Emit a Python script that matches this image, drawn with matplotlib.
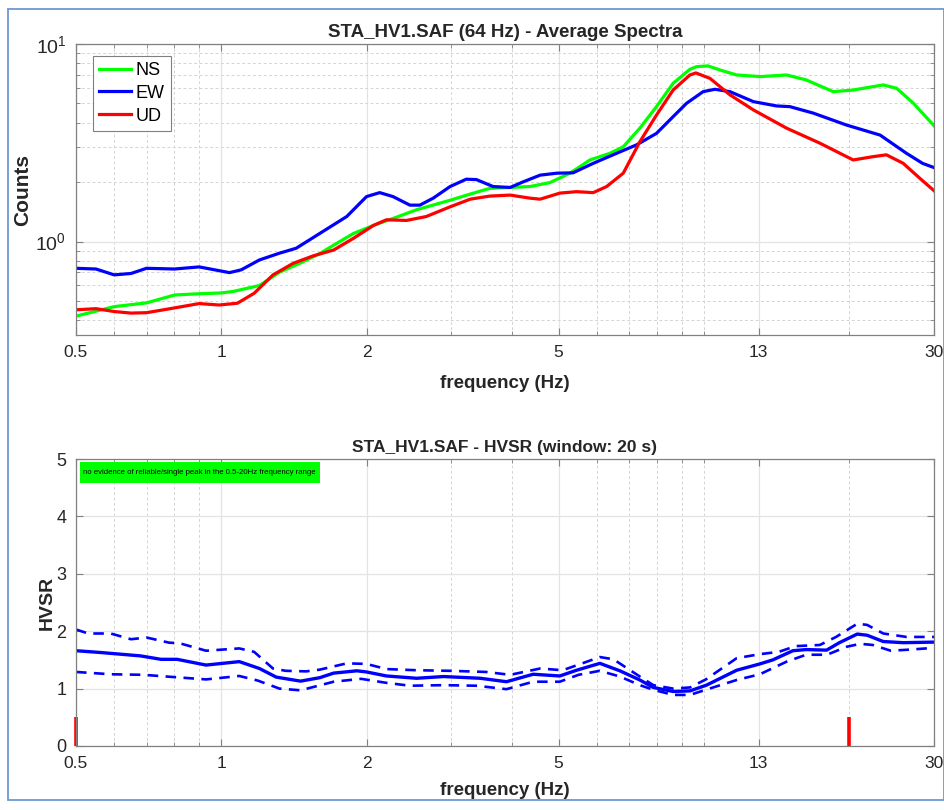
import numpy as np
import matplotlib
matplotlib.use('Agg')
import matplotlib.pyplot as plt
from matplotlib.patches import Rectangle
from matplotlib.ticker import FixedLocator, NullFormatter, LogLocator

plt.rcParams['font.family'] = ['Liberation Sans', 'DejaVu Sans']

# average spectra, read per component (frequency in Hz, counts)
ns_freq = [0.5, 0.6, 0.7, 0.8, 0.9, 1.0, 1.06, 1.2, 1.32, 1.46, 1.6, 1.71, 1.88, 2.07, 2.27,
           2.54, 2.98, 3.28, 3.6, 3.97, 4.36, 4.8, 5.28, 5.81, 6.39, 6.81, 7.37, 7.98, 8.64,
           9.36, 9.66, 10.2, 10.8, 11.7, 13.1, 14.85, 16.3, 18.55, 20.4, 23.55, 25.1, 27.2, 30]
ns_amp = [0.42, 0.469, 0.49, 0.537, 0.545, 0.55, 0.56, 0.6, 0.7, 0.78, 0.87, 0.96, 1.1, 1.21, 1.31,
          1.45, 1.62, 1.74, 1.86, 1.88, 1.9, 1.99, 2.22, 2.59, 2.8, 3.02, 3.75, 4.82, 6.33,
          7.45, 7.68, 7.75, 7.39, 6.97, 6.84, 6.97, 6.58, 5.74, 5.85, 6.21, 5.97, 5.01, 3.86]

ew_freq = [0.5, 0.55, 0.6, 0.65, 0.7, 0.8, 0.9, 1.04, 1.1, 1.2, 1.32, 1.43, 1.6, 1.82, 2.0,
           2.13, 2.27, 2.46, 2.58, 2.75, 2.98, 3.22, 3.38, 3.66, 3.97, 4.23, 4.58, 4.96, 5.36,
           5.9, 6.6, 7.26, 7.98, 8.64, 9.21, 9.97, 10.55, 11.33, 12.67, 14.15, 15.08, 16.86,
           19.76, 23.2, 26.3, 28.4, 30]
ew_amp = [0.733, 0.727, 0.679, 0.69, 0.733, 0.727, 0.745, 0.697, 0.72, 0.808, 0.874, 0.926, 1.1, 1.34, 1.69,
          1.77, 1.69, 1.53, 1.53, 1.66, 1.9, 2.07, 2.06, 1.9, 1.88, 2.01, 2.17, 2.22, 2.23,
          2.49, 2.8, 3.09, 3.53, 4.29, 5.01, 5.74, 5.9, 5.74, 5.11, 4.86, 4.82, 4.47,
          3.89, 3.46, 2.8, 2.49, 2.37]

ud_freq = [0.5, 0.55, 0.6, 0.65, 0.7, 0.8, 0.9, 0.99, 1.08, 1.17, 1.28, 1.41, 1.55, 1.71, 1.88,
           2.07, 2.2, 2.42, 2.66, 2.98, 3.28, 3.6, 3.97, 4.36, 4.58, 5.03, 5.45, 5.9, 6.29,
           6.81, 7.37, 7.98, 8.64, 9.36, 9.63, 10.3, 11.33, 12.67, 14.85, 17.4, 20.4, 22.4,
           23.9, 25.9, 28.05, 30]
ud_amp = [0.452, 0.458, 0.443, 0.435, 0.437, 0.462, 0.486, 0.478, 0.488, 0.548, 0.679, 0.777, 0.847, 0.907, 1.04,
          1.21, 1.29, 1.28, 1.34, 1.5, 1.64, 1.7, 1.72, 1.66, 1.64, 1.76, 1.79, 1.77, 1.9,
          2.22, 3.2, 4.37, 5.85, 6.97, 7.14, 6.7, 5.53, 4.64, 3.75, 3.15, 2.59, 2.69,
          2.75, 2.49, 2.09, 1.81]

# H/V ratio: mean and +/- std curves
hv_freq = [0.5, 0.56, 0.68, 0.75, 0.81, 0.93, 1.09, 1.2, 1.3, 1.46, 1.6, 1.71, 1.91, 2.0, 2.2,
           2.54, 2.89, 3.44, 3.9, 4.43, 5.03, 5.45, 6.09, 6.7, 7.37, 7.86, 8.64, 9.36, 10.13,
           11.7, 13.07, 13.9, 15.3, 16.3, 17.97, 19.1, 20.8, 21.8, 23.55, 25.9, 30]
hv_mean = [1.66, 1.63, 1.57, 1.51, 1.51, 1.41, 1.47, 1.35, 1.2, 1.13, 1.19, 1.27, 1.31, 1.29, 1.22,
           1.18, 1.21, 1.18, 1.12, 1.25, 1.22, 1.32, 1.44, 1.31, 1.15, 1.02, 0.95, 0.96, 1.06,
           1.32, 1.43, 1.5, 1.66, 1.68, 1.67, 1.8, 1.95, 1.93, 1.82, 1.8, 1.81]

hv_up_freq = [0.5, 0.53, 0.59, 0.65, 0.7, 0.78, 0.82, 0.93, 1.09, 1.17, 1.28, 1.36, 1.5, 1.6, 1.82,
              2.0, 2.2, 2.54, 2.98, 3.54, 3.97, 4.58, 5.1, 5.6, 6.09, 6.5, 7.37, 7.86, 8.64,
              9.36, 10.1, 11.7, 13.07, 14.3, 15.5, 17.4, 18.8, 20.8, 21.8, 23.55, 26.3, 30]
hv_up = [2.03, 1.96, 1.96, 1.86, 1.89, 1.8, 1.79, 1.66, 1.7, 1.64, 1.35, 1.31, 1.3, 1.33, 1.44,
         1.43, 1.34, 1.32, 1.31, 1.29, 1.24, 1.35, 1.32, 1.44, 1.55, 1.51, 1.21, 1.06, 1.0,
         1.02, 1.16, 1.53, 1.6, 1.64, 1.74, 1.76, 1.9, 2.13, 2.11, 1.96, 1.9, 1.9]

hv_lo_freq = [0.5, 0.59, 0.69, 0.8, 0.93, 1.09, 1.19, 1.32, 1.46, 1.71, 1.95, 2.2, 2.46, 2.89, 3.38,
              3.9, 4.43, 5.03, 5.5, 6.09, 6.7, 7.37, 7.86, 8.64, 9.36, 10.1, 11.7, 13.07, 14.85,
              16.3, 18.0, 19.8, 21.1, 22.4, 24.4, 26.8, 30]
hv_lo = [1.29, 1.25, 1.24, 1.2, 1.16, 1.22, 1.14, 1.0, 0.97, 1.12, 1.17, 1.1, 1.05, 1.06, 1.05,
         0.99, 1.12, 1.12, 1.24, 1.31, 1.21, 1.06, 0.98, 0.89, 0.89, 0.98, 1.15, 1.25, 1.47,
         1.59, 1.59, 1.73, 1.78, 1.76, 1.66, 1.68, 1.71]

peak_limits = [0.5, 20]

xticks = [0.5, 1, 2, 5, 13, 30]
xminor = [0.6, 0.7, 0.8, 0.9, 3, 4, 6, 7, 8, 9, 10, 20]

AXCOL = '#808080'
TXTCOL = '#262626'


def style_freq_axis(ax, xpad):
    ax.set_xscale('log')
    ax.set_xlim(0.5, 30)
    ax.xaxis.set_major_locator(FixedLocator(xticks))
    ax.xaxis.set_minor_locator(FixedLocator(xminor))
    ax.set_xticklabels([('%g' % t) for t in xticks])
    ax.xaxis.set_minor_formatter(NullFormatter())
    ax.tick_params(which='both', direction='in', top=True, right=True,
                   colors=AXCOL, labelcolor=TXTCOL, labelsize=12.5, pad=7)
    ax.tick_params(which='major', length=5, width=0.8)
    ax.tick_params(which='minor', length=3, width=0.6)
    for s in ax.spines.values():
        s.set_color(AXCOL)
        s.set_linewidth(0.9)
    ax.grid(True, which='major', color='#e3e3e3', lw=0.9, ls='-')
    ax.grid(True, which='minor', color='#d4d4d4', lw=0.7, ls=(0, (3, 2.5)))
    ax.set_axisbelow(True)
    ax.set_xlabel('frequency (Hz)', fontsize=13.5, fontweight='bold', color=TXTCOL,
                  labelpad=xpad)


fig = plt.figure(figsize=(9.45, 8.10), dpi=100)

# thin frame around the whole figure
fig.patches.append(Rectangle((8 / 945, 1 - 800 / 810), 936 / 945, 791 / 810,
                             transform=fig.transFigure, fill=False,
                             edgecolor='#6a98d4', lw=1.3))

# --- average spectra ---
ax1 = fig.add_axes([76 / 945, 1 - 335 / 810, 858 / 945, 291 / 810])
ax1.set_yscale('log')
ax1.set_ylim(0.337, 10)
ax1.yaxis.set_major_locator(LogLocator(base=10, numticks=5))
ax1.yaxis.set_minor_locator(LogLocator(base=10, subs=np.arange(2, 10), numticks=20))
ax1.yaxis.set_minor_formatter(NullFormatter())
style_freq_axis(ax1, 11)
ax1.tick_params(axis='y', labelsize=14)
ax1.plot(ns_freq, ns_amp, color='#00ff00', lw=2.3, label='NS')
ax1.plot(ew_freq, ew_amp, color='#0000ff', lw=2.3, label='EW')
ax1.plot(ud_freq, ud_amp, color='#ff0000', lw=2.3, label='UD')
ax1.set_ylabel('Counts', fontsize=15, fontweight='bold', color=TXTCOL, labelpad=2)
ax1.set_title('STA_HV1.SAF (64 Hz) - Average Spectra', fontsize=13.5, fontweight='bold',
              color=TXTCOL, pad=5)
leg = ax1.legend(loc='upper left', bbox_to_anchor=(0.02, 0.96), borderaxespad=0,
                 fancybox=False, framealpha=1, edgecolor=AXCOL, fontsize=13,
                 handlelength=1.75, handletextpad=0.25, labelspacing=0.32,
                 borderpad=0.35)
leg.get_frame().set_linewidth(0.8)

# --- HVSR ---
ax2 = fig.add_axes([76 / 945, 1 - 746 / 810, 858 / 945, 287 / 810])
ax2.set_ylim(0, 5)
ax2.set_yticks([0, 1, 2, 3, 4, 5])
style_freq_axis(ax2, 8)
ax2.tick_params(axis='y', labelsize=13)
ax2.plot(hv_freq, hv_mean, color='#0000ff', lw=2.4)
ax2.plot(hv_up_freq, hv_up, color='#0000ff', lw=1.9, ls=(0, (4, 2.8)))
ax2.plot(hv_lo_freq, hv_lo, color='#0000ff', lw=1.9, ls=(0, (4, 2.8)))
for f in peak_limits:
    ax2.plot([f, f], [0, 0.5], color='#ff0000', lw=2.6, solid_capstyle='butt', clip_on=False)
ax2.set_ylabel('HVSR', fontsize=14, fontweight='bold', color=TXTCOL, labelpad=0)
ax2.set_title('STA_HV1.SAF - HVSR (window: 20 s)', fontsize=12.5, fontweight='bold',
              color=TXTCOL, pad=5)

# green status note in the top-left corner
ax2.add_patch(Rectangle((0.0047, 0.916), 0.28, 0.0735, transform=ax2.transAxes,
                        facecolor='#00ff00', edgecolor='none', zorder=5))
ax2.text(0.0085, 0.952, 'no evidence of reliable/single peak in the 0.5-20Hz frequency range',
         transform=ax2.transAxes, fontsize=5.55, va='center', ha='left', color='#000000',
         zorder=6)

fig.savefig('out.png', dpi=100)
